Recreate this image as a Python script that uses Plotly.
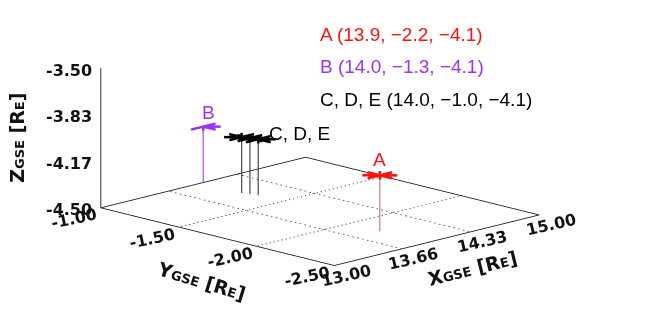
import numpy as np
import plotly.graph_objects as go

# ---------------- data ----------------
x_range = [13.0, 15.0]
y_range = [-2.5, -1.0]
z_range = [-4.5, -3.5]

x_ticks = [13.00, 13.66, 14.33, 15.00]
x_tick_labels = ["13.00", "13.66", "14.33", "15.00"]
y_ticks = [-1.00, -1.50, -2.00, -2.50]
y_tick_labels = ["-1.00", "-1.50", "-2.00", "-2.50"]
z_ticks = [-3.50, -3.83, -4.17, -4.50]
z_tick_labels = ["-3.50", "-3.83", "-4.17", "-4.50"]

# plotted positions
names = ["A", "B", "C", "D", "E"]
px = [13.90, 14.00, 13.98, 14.00, 14.02]
py = [-2.20, -1.00, -1.26, -1.30, -1.34]
pz = [-4.10, -4.10, -4.10, -4.10, -4.10]

legend_lines = ["A (13.9, \u22122.2, \u22124.1)",
                "B (14.0, \u22121.3, \u22124.1)",
                "C, D, E (14.0, \u22121.0, \u22124.1)"]

RED = "#ff1010"
PURPLE = "#9933ff"
BLACK = "#000000"
mark_colors = [RED, PURPLE, BLACK, BLACK, BLACK]
stem_colors = ["#e06a6a", "#a040ff", "#3a3a3a", "#3a3a3a", "#3a3a3a"]

fig = go.Figure()

x0, x1 = x_range
y0, y1 = y_range
zb, zt = z_range

# floor border
fig.add_trace(go.Scatter3d(
    x=[x0, x1, x1, x0, x0], y=[y0, y0, y1, y1, y0], z=[zb] * 5,
    mode="lines", line=dict(color="#111111", width=1.6),
    hoverinfo="skip", showlegend=False))
# vertical z axis at (x0, y1)
fig.add_trace(go.Scatter3d(
    x=[x0, x0], y=[y1, y1], z=[zb, zt],
    mode="lines", line=dict(color="#111111", width=1.6),
    hoverinfo="skip", showlegend=False))

# dotted floor grid
gx, gy, gz = [], [], []
for xv in x_ticks[1:-1]:
    gx += [xv, xv, None]; gy += [y0, y1, None]; gz += [zb, zb, None]
for yv in y_ticks[1:-1]:
    gx += [x0, x1, None]; gy += [yv, yv, None]; gz += [zb, zb, None]
fig.add_trace(go.Scatter3d(
    x=gx, y=gy, z=gz, mode="lines",
    line=dict(color="#3c3c3c", width=1.5, dash="dot"),
    hoverinfo="skip", showlegend=False))

# stems (impulses down to the floor)
for i in range(len(names)):
    fig.add_trace(go.Scatter3d(
        x=[px[i], px[i]], y=[py[i], py[i]], z=[pz[i], zb],
        mode="lines", line=dict(color=stem_colors[i], width=2.2),
        hoverinfo="skip", showlegend=False))

# flat asterisk markers lying in the horizontal plane
rx, ry = 0.12, 0.08
angles = np.deg2rad([0, 45, 90, 135])
for i in range(len(names)):
    sx, sy, sz = [], [], []
    for a in angles:
        dx, dy = rx * np.cos(a), ry * np.sin(a)
        sx += [px[i] - dx, px[i] + dx, None]
        sy += [py[i] - dy, py[i] + dy, None]
        sz += [pz[i], pz[i], None]
    fig.add_trace(go.Scatter3d(
        x=sx, y=sy, z=sz, mode="lines",
        line=dict(color=mark_colors[i], width=5),
        hoverinfo="skip", showlegend=False))

TICKFONT = dict(family="DejaVu Sans", size=16, color="#111111", weight="bold")
TITLEFONT = dict(family="DejaVu Sans", size=19, color="#111111", weight="bold")
SANS = "Liberation Sans, Arial, sans-serif"

ann = []
for v, t in zip(z_ticks, z_tick_labels):
    ann.append(dict(x=x0, y=y1, z=v, text=t, showarrow=False, xanchor="right",
                    xshift=-7, yshift=-2, font=TICKFONT))
for v, t in zip(y_ticks, y_tick_labels):
    ann.append(dict(x=x0, y=v, z=zb, text=t, showarrow=False, xanchor="center",
                    xshift=-27, yshift=-11, textangle=-12, font=TICKFONT))
for v, t in zip(x_ticks, x_tick_labels):
    ann.append(dict(x=v, y=y0, z=zb, text=t, showarrow=False, xanchor="center",
                    xshift=12, yshift=-10, textangle=-13, font=TICKFONT))

def gse(letter, unit="E"):
    return (f"{letter}<span style='font-size:13px'>GSE</span> "
            f"[R<span style='font-size:13px'>{unit}</span>]")

ann.append(dict(x=x0, y=y1, z=(zb + zt) / 2, text=gse("Z"), showarrow=False,
                xshift=-84, textangle=-90, font=TITLEFONT))
ann.append(dict(x=x0, y=(y0 + y1) / 2, z=zb, text=gse("Y"), showarrow=False,
                xshift=-16, yshift=-44, textangle=17, font=TITLEFONT))
ann.append(dict(x=(x0 + x1) / 2, y=y0, z=zb, text=gse("X"), showarrow=False,
                xshift=36, yshift=-28, textangle=-14, font=TITLEFONT))

# point labels
ann.append(dict(x=px[0], y=py[0], z=pz[0], text="A", showarrow=False,
                xshift=0, yshift=16, font=dict(family=SANS, size=19, color=RED)))
ann.append(dict(x=px[1], y=py[1], z=pz[1], text="B", showarrow=False,
                xshift=5, yshift=14, font=dict(family=SANS, size=19, color=PURPLE)))
ann.append(dict(x=px[3], y=py[3], z=pz[3], text="C, D, E", showarrow=False,
                xanchor="left", xshift=17, yshift=5,
                font=dict(family=SANS, size=19, color=BLACK)))

ax_common = dict(showgrid=False, showline=False, zeroline=False,
                 showticklabels=False, ticks="", title=dict(text=""),
                 showbackground=False, showspikes=False, autorange=False)

# tiny padding so lines lying exactly on the box boundary are not clipped
PAD = 0.004
S = 2.178
E = 3.0
fig.update_layout(
    width=664, height=317,
    margin=dict(l=0, r=0, t=0, b=0),
    paper_bgcolor="white",
    showlegend=False,
    scene=dict(
        domain=dict(x=[0, 0.9398], y=[0.1577, 1.0]),
        xaxis=dict(range=[x0 - PAD, x1 + PAD], **ax_common),
        yaxis=dict(range=[y0 - PAD, y1 + PAD], **ax_common),
        zaxis=dict(range=[zb - PAD, zt + PAD], **ax_common),
        aspectmode="manual",
        aspectratio=dict(x=1.0 * S, y=1.142 * S, z=0.5 * S),
        camera=dict(
            projection=dict(type="orthographic"),
            eye=dict(x=-0.685 * E, y=-0.685 * E, z=0.247 * E),
            up=dict(x=0, y=0, z=1),
            center=dict(x=0, y=0, z=0),
        ),
        annotations=ann,
    ),
    annotations=[
        dict(x=310 / 664, y=1 - 26 / 317, xref="paper", yref="paper",
             xanchor="left", yanchor="middle", showarrow=False,
             text=legend_lines[0], font=dict(family=SANS, size=19, color=RED)),
        dict(x=310 / 664, y=1 - 59 / 317, xref="paper", yref="paper",
             xanchor="left", yanchor="middle", showarrow=False,
             text=legend_lines[1], font=dict(family=SANS, size=19, color=PURPLE)),
        dict(x=310 / 664, y=1 - 92 / 317, xref="paper", yref="paper",
             xanchor="left", yanchor="middle", showarrow=False,
             text=legend_lines[2], font=dict(family=SANS, size=19, color=BLACK)),
    ],
)

fig.write_html("out.html")
